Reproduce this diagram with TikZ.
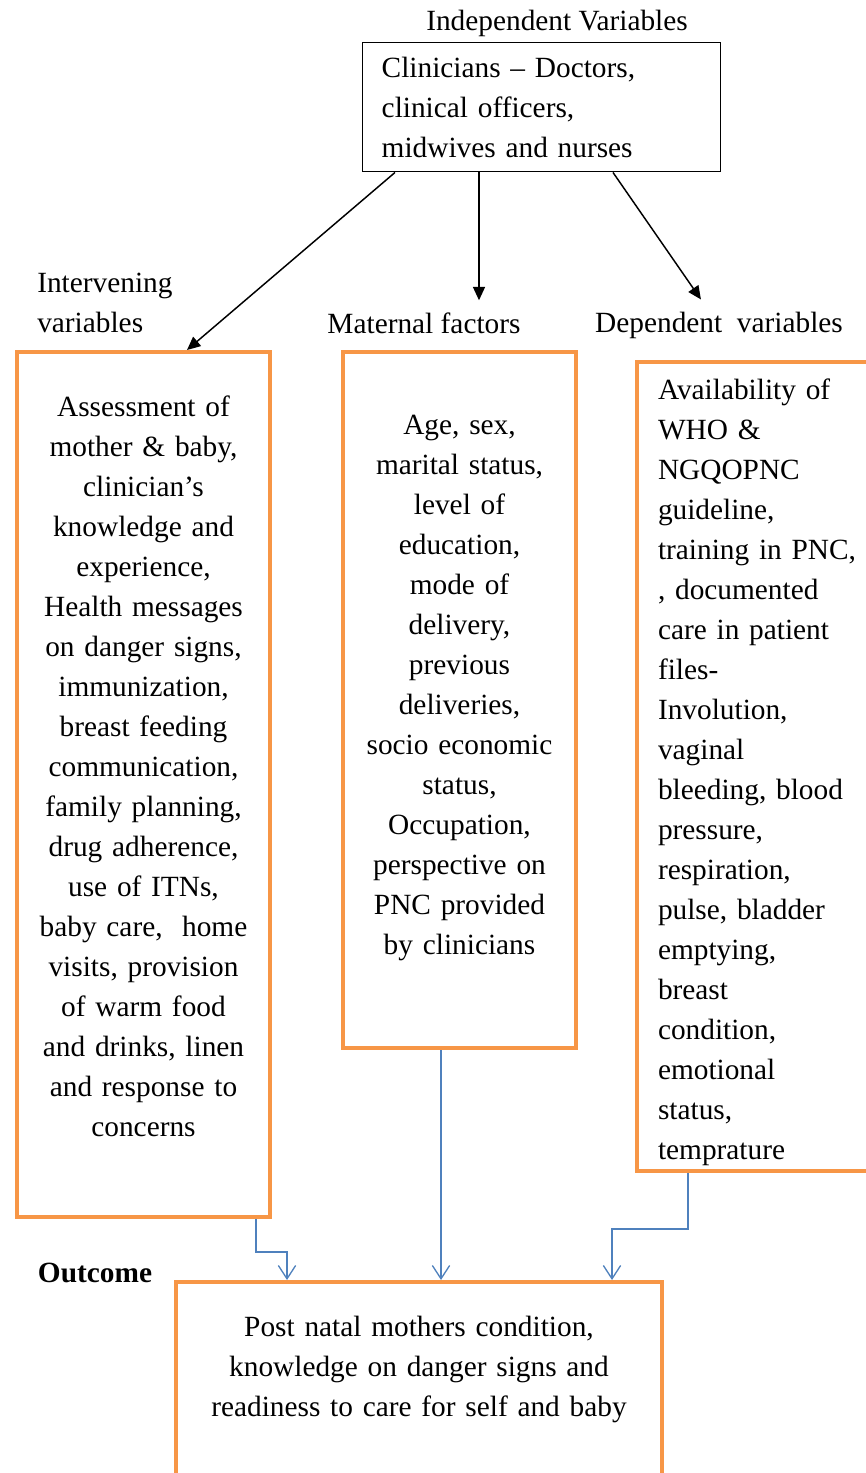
\documentclass[tikz,border=0pt]{standalone}
\usepackage{fontspec}
\setmainfont{Liberation Serif}
\usetikzlibrary{arrows.meta, positioning, calc}
\definecolor{boxorange}{HTML}{F79646}
\definecolor{linkblue}{HTML}{4F81BD}

\begin{document}
\begin{tikzpicture}[
      x=0.75pt, y=-0.75pt,
      font=\fontsize{22}{30}\selectfont,
      hdr/.style={align=left, inner xsep=0pt, inner ysep=9pt},
      topbox/.style={rectangle, draw, line width=1.1pt, anchor=north west, align=left, text width=240pt, inner xsep=14.25pt, minimum width=268.5pt, minimum height=96.75pt},
      varbox/.style={rectangle, draw=boxorange, line width=3pt, anchor=north west, align=center, inner sep=4pt},
      arrow/.style={-{Triangle[length=10pt,width=9pt]}, line width=1.1pt},
      link/.style={-{Straight Barb[length=10pt,width=13pt]}, draw=linkblue, line width=1pt}
    ]
    \clip (0,0) rectangle (866,1473);

    \node[hdr] (indep) at (557,23) {Independent Variables};
    \node[topbox] (clin) at (362,42) {Clinicians -- Doctors,\\clinical officers,\\midwives and nurses};

    \node[hdr, anchor=west] (interv) at (37,303) {Intervening\\variables};
    \node[hdr] (matlbl) at (424,323) {Maternal factors};
    \node[hdr] (deplbl) at (719,325) {Dependent\ \ variables};

    \node[varbox, text width=180pt, minimum width=189.75pt, minimum height=648.75pt] (assess) at (15,350)
      {Assessment of\\mother \& baby,\\clinician’s\\knowledge and\\experience,\\Health messages\\on danger signs,\\immunization,\\breast feeding\\communication,\\family planning,\\drug adherence,\\use of ITNs,\\baby care,\ \ home\\visits, provision\\of warm food\\and drinks, linen\\and response to\\concerns\rule[-27.5pt]{0pt}{0pt}};
    \node[varbox, text width=165pt, minimum width=174.75pt, minimum height=522pt] (mat) at (341,350)
      {Age, sex,\\marital status,\\level of\\education,\\mode of\\delivery,\\previous\\deliveries,\\socio economic\\status,\\Occupation,\\perspective on\\PNC provided\\by clinicians\rule[-23pt]{0pt}{0pt}};
    \node[varbox, align=left, text width=150pt, inner xsep=15.75pt, minimum width=176.25pt, minimum height=605.25pt] (avail) at (635,360)
      {\rule{0pt}{24pt}Availability of\\WHO \&\\NGQOPNC\\guideline,\\training in PNC,\\, documented\\care in patient\\files-\\Involution,\\vaginal\\bleeding, blood\\pressure,\\respiration,\\pulse, bladder\\emptying,\\breast\\condition,\\emotional\\status,\\temprature};

    \node[hdr] (outc) at (95,1273) {\bfseries Outcome};
    \node[varbox, text width=355pt, minimum width=364.5pt, minimum height=186pt] (post) at (174,1280)
      {Post natal mothers condition,\\knowledge on danger signs and\\readiness to care for self and baby\\~\\~};

    \draw[arrow] ($(clin.south west)+(33,0)$) -- ($(assess.north west)+(172,0)$);
    \draw[arrow] ($(clin.south west)+(117,0)$) coordinate (c2) -- (c2 |- matlbl.north);
    \draw[arrow] ($(clin.south west)+(251,0)$) -- ($(deplbl.north west)+(106,0)$);

    \draw[link] ($(assess.south east)+(-16,0)$) -- ++(0,33) -| ($(post.north west)+(113,0)$);
    \draw[link] ($(mat.south west)+(100,0)$) coordinate (m2) -- (m2 |- post.north);
    \draw[link] ($(avail.south west)+(53,0)$) -- ++(0,56) -| ($(post.north west)+(438,0)$);
  \end{tikzpicture}
\end{document}
